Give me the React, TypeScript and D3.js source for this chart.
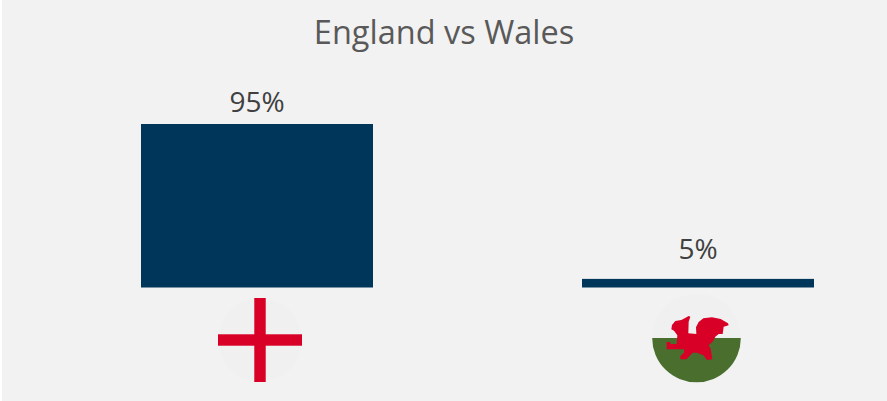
import React from "react";
import * as d3 from "d3";

const countries = ["England", "Wales"];
const shares = [95, 5];
const shareLabels = ["95%", "5%"];
const chartTitle = "England vs Wales";

const WIDTH = 887;
const HEIGHT = 401;
const FONT = "'Open Sans', sans-serif";
const NAVY = "#00365a";
const RED = "#d80027";

// Red dragon silhouette, in a 3x local grid centred on the flag.
const DRAGON =
  "M-75.5 -26 L-73.5 -39 L-63.5 -51 L-45.5 -54 L-35.5 -59 L-23.5 -66 L-18.5 -64 L-23.5 -49 L-24.5 -14 L-0.5 -12 L-1.5 -32 L6.5 -48 L20.5 -59 L46.5 -62 L72.5 -57 L94.5 -44 L96.5 -38 L81.5 -34 L78.5 -12 L66.5 -12 L56.5 -4 L48.5 11 L36.5 22 L42.5 32 L47.5 64 L31.5 66 L20.5 52 L1.5 44 L-11.5 44 L-30.5 64 L-48.5 64 L-48.5 54 L-37.5 44 L-37.5 34 L-89.5 34 L-89.5 12 L-78.5 12 L-78.5 18 L-59.5 18 L-57.5 -8 L-67.5 -22 Z";

function EnglandFlag({ cx, cy, r }: { cx: number; cy: number; r: number }) {
  const half = r * 0.136;
  return (
    <g transform={`translate(${cx},${cy})`}>
      <circle r={r} fill="#f0f0f0" />
      <rect x={-half} y={-r} width={half * 2} height={r * 2} fill={RED} />
      <rect x={-r} y={-half} width={r * 2} height={half * 2} fill={RED} />
    </g>
  );
}

function WalesFlag({ cx, cy, r }: { cx: number; cy: number; r: number }) {
  const lower = d3.arc()({
    innerRadius: 0,
    outerRadius: r,
    startAngle: Math.PI / 2,
    endAngle: (3 * Math.PI) / 2,
  }) as string;
  return (
    <g transform={`translate(${cx},${cy})`}>
      <circle r={r} fill="#f0f0f0" />
      <path d={lower} fill="#496e2d" />
      <path d={DRAGON} fill={RED} transform="scale(0.3333)" />
    </g>
  );
}

export default function App() {
  const x = d3
    .scaleBand<string>()
    .domain(countries)
    .range([30.75, 924.25])
    .paddingInner(209 / 441)
    .paddingOuter(0.25);
  const y = d3.scaleLinear().domain([0, 95]).range([287.5, 124]);
  const labelGaps = [12.3, 20];
  const flagCentres = [
    { cx: 260, cy: 340, r: 42 },
    { cx: 696.5, cy: 338, r: 44.3 },
  ];

  return (
    <svg
      width={WIDTH}
      height={HEIGHT}
      viewBox={`0 0 ${WIDTH} ${HEIGHT}`}
      style={{ position: "absolute", left: 0, top: 0, display: "block" }}
    >
      <rect width={WIDTH} height={HEIGHT} fill="#ffffff" />
      <rect x={2} y={0} width={WIDTH - 2} height={HEIGHT} fill="#f2f2f2" />
      <text x={444} y={44.3} textAnchor="middle" fontFamily={FONT} fontSize={32.5} fill="#595959">
        {chartTitle}
      </text>
      {countries.map((c, i) => (
        <g key={c}>
          <rect
            x={x(c)}
            y={y(shares[i])}
            width={x.bandwidth()}
            height={y(0) - y(shares[i])}
            fill={NAVY}
          />
          <text
            x={(x(c) as number) + x.bandwidth() / 2}
            y={y(shares[i]) - labelGaps[i]}
            textAnchor="middle"
            fontFamily={FONT}
            fontSize={28}
            fill="#404040"
          >
            {shareLabels[i]}
          </text>
        </g>
      ))}
      <EnglandFlag {...flagCentres[0]} />
      <WalesFlag {...flagCentres[1]} />
    </svg>
  );
}
